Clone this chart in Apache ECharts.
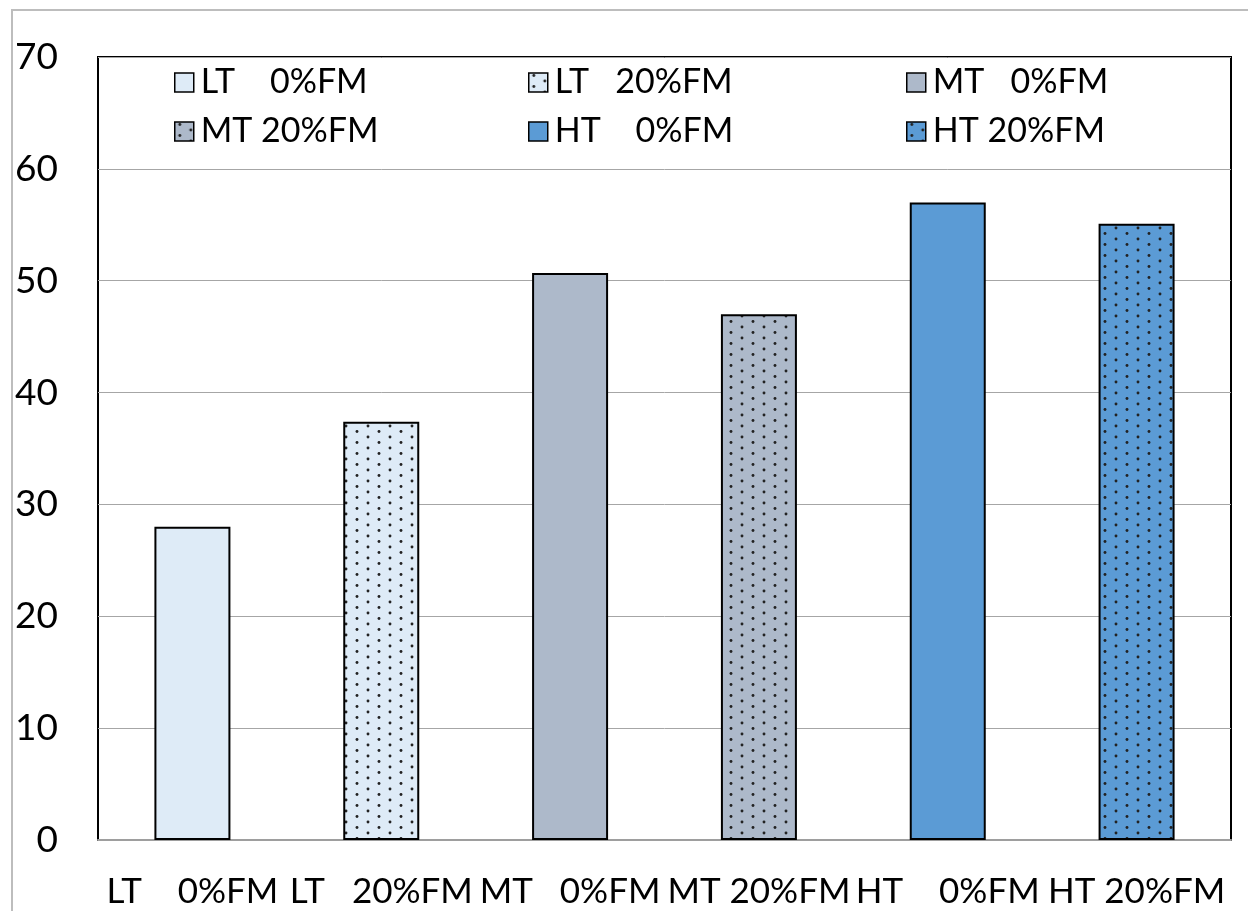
<!DOCTYPE html>
<html>
<head>
<meta charset="utf-8">
<script src="https://cdn.jsdelivr.net/npm/echarts@6/dist/echarts.min.js"></script>
<style>
  html, body { margin: 0; padding: 0; background: #fff; }
  #chart { position: absolute; left: 0; top: 0; width: 1248px; height: 911px; }
  #frame { position: absolute; left: 11px; top: 9px; right: -4px; bottom: -4px;
           border-left: 2px solid #bdbdbd; border-top: 2px solid #bdbdbd; pointer-events: none; }
</style>
</head>
<body>
<div id="chart"></div>
<div id="frame"></div>
<script>
// Treatment groups and measured values
const categories = ['LT    0%FM', 'LT   20%FM', 'MT   0%FM', 'MT 20%FM', 'HT    0%FM', 'HT 20%FM'];
const values = [28.0, 37.4, 50.7, 47.0, 57.0, 55.1];
const baseColors = ['#DEEBF7', '#DEEBF7', '#ADB9CA', '#ADB9CA', '#5B9BD5', '#5B9BD5'];
const dotted = [false, true, false, true, false, true];
const yTicks = { min: 0, max: 70, interval: 10 };

const FONT = 'Lato, "Open Sans", sans-serif';

// Staggered dot fill used for the 20%FM groups
function dotPattern(bg) {
  const c = document.createElement('canvas');
  c.width = 22; c.height = 11;
  const ctx = c.getContext('2d');
  ctx.fillStyle = bg;
  ctx.fillRect(0, 0, c.width, c.height);
  ctx.fillStyle = '#222';
  [[5, 2.5], [16, 8]].forEach(([x, y]) => {
    ctx.beginPath();
    ctx.arc(x, y, 1.45, 0, Math.PI * 2);
    ctx.fill();
  });
  return { image: c, repeat: 'repeat' };
}

const series = categories.map((name, i) => ({
  name: name,
  type: 'bar',
  barWidth: 76,
  barGap: '-100%',
  data: categories.map((_, j) => (j === i ? values[i] : '-')),
  itemStyle: {
    color: dotted[i] ? dotPattern(baseColors[i]) : baseColors[i],
    borderColor: '#000',
    borderWidth: 2
  },
  emphasis: { disabled: true }
}));

// Legend laid out as three columns of two entries
const legendColumns = [174, 528, 906];
const legends = legendColumns.map((left, col) => ({
  left: left,
  top: 65,
  orient: 'vertical',
  icon: 'rect',
  itemWidth: 19,
  itemHeight: 19,
  itemGap: 14,
  padding: 0,
  selectedMode: false,
  data: [categories[col], categories[col + 3]],
  itemStyle: { borderColor: '#000', borderWidth: 1.5 },
  textStyle: { fontFamily: FONT, fontSize: 34, color: '#000', lineHeight: 35, padding: [0, 0, 0, 2] }
}));

const chart = echarts.init(document.getElementById('chart'), null, { renderer: 'canvas' });
chart.setOption({
  animation: false,
  backgroundColor: '#fff',
  legend: legends,
  grid: {
    left: 98, right: 17, top: 57, bottom: 71,
    show: true, borderColor: '#000', borderWidth: 2, backgroundColor: 'transparent'
  },
  xAxis: {
    type: 'category',
    data: categories,
    axisTick: { show: false },
    axisLine: { lineStyle: { color: '#9e9e9e', width: 2 } },
    axisLabel: { interval: 0, margin: 34, fontFamily: FONT, fontSize: 35, color: '#000' }
  },
  yAxis: {
    type: 'value',
    min: yTicks.min, max: yTicks.max, interval: yTicks.interval,
    axisLine: { show: false },
    axisTick: { show: false },
    splitLine: { lineStyle: { color: '#a6a6a6', width: 1 } },
    axisLabel: { margin: 40, fontFamily: FONT, fontSize: 37, color: '#000' }
  },
  series: series
});
</script>
</body>
</html>
